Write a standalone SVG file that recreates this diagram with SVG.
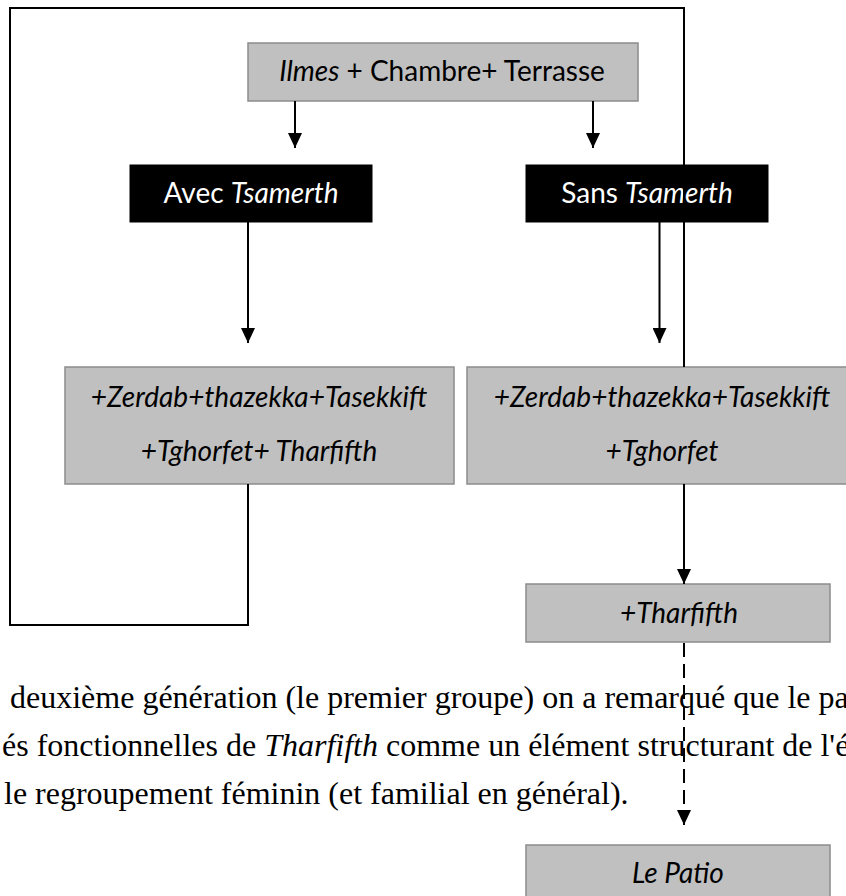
<svg xmlns="http://www.w3.org/2000/svg" width="846" height="896" viewBox="0 0 846 896">
<defs>
<style>
.box{fill:#c0c0c0;stroke:#8c8c8c;stroke-width:1.5}
.dark{fill:#000;stroke:#000;stroke-width:1}
.lbl{font-family:Lato,"Open Sans",sans-serif;font-size:28px;fill:#000;text-anchor:middle}
.wl{fill:#fff}
.it{font-style:italic}
.para{font-family:"Liberation Serif","Times New Roman",serif;font-size:32px;fill:#000}
.ln{fill:none;stroke:#000;stroke-width:2}
.dash{stroke-dasharray:14 7}
</style>
<marker id="ah" viewBox="0 0 15 14" refX="15" refY="7" markerWidth="15" markerHeight="14" markerUnits="userSpaceOnUse" orient="auto">
<path d="M0,0 L15,7 L0,14 Z" fill="#000"/>
</marker>
</defs>
<rect width="846" height="896" fill="#fff"/>

<g id="paragraph">
<text class="para" x="10" y="708">deuxième génération (le premier groupe) on a remarqué que le pa</text>
<text class="para" x="2" y="756">és fonctionnelles de <tspan font-style="italic">Tharfifth</tspan> comme un élément structurant de l'é</text>
<text class="para" x="4" y="804">le regroupement féminin (et familial en général).</text>
</g>

<g id="node-top">
<rect class="box" x="248" y="43" width="390" height="58"/>
<text class="lbl" x="442" y="81"><tspan class="it">Ilmes</tspan> + Chambre+ Terrasse</text>
</g>
<g id="node-avec">
<rect class="dark" x="130" y="165" width="242" height="57"/>
<text class="lbl wl" x="251" y="203">Avec <tspan class="it">Tsamerth</tspan></text>
</g>
<g id="node-sans">
<rect class="dark" x="526" y="165" width="242" height="57"/>
<text class="lbl wl" x="647" y="203">Sans <tspan class="it">Tsamerth</tspan></text>
</g>
<g id="node-left">
<rect class="box" x="65" y="367" width="389" height="117"/>
<text class="lbl it" x="259" y="407">+Zerdab+thazekka+Tasekkift</text>
<text class="lbl it" x="259" y="461">+Tghorfet+ Tharfifth</text>
</g>
<g id="node-right">
<rect class="box" x="467" y="367" width="390" height="117"/>
<text class="lbl it" x="662" y="407">+Zerdab+thazekka+Tasekkift</text>
<text class="lbl it" x="662" y="461">+Tghorfet</text>
</g>
<g id="node-tharfifth">
<rect class="box" x="526" y="584" width="304" height="58"/>
<text class="lbl it" x="679" y="623">+Tharfifth</text>
</g>
<g id="node-patio">
<rect class="box" x="526" y="845" width="304" height="60"/>
<text class="lbl it" x="678" y="883">Le Patio</text>
</g>

<g id="connectors">
<polyline class="ln" points="248,484 248,625 10,625 10,8 684,8 684,367"/>
<line class="ln" x1="295" y1="101" x2="295" y2="148" marker-end="url(#ah)"/>
<line class="ln" x1="593" y1="101" x2="593" y2="148" marker-end="url(#ah)"/>
<line class="ln" x1="248" y1="222" x2="248" y2="343" marker-end="url(#ah)"/>
<line class="ln" x1="659.5" y1="222" x2="659.5" y2="343" marker-end="url(#ah)"/>
<line class="ln" x1="684" y1="484" x2="684" y2="584" marker-end="url(#ah)"/>
<line class="ln dash" x1="684" y1="643" x2="684" y2="825" marker-end="url(#ah)"/>
</g>
</svg>
